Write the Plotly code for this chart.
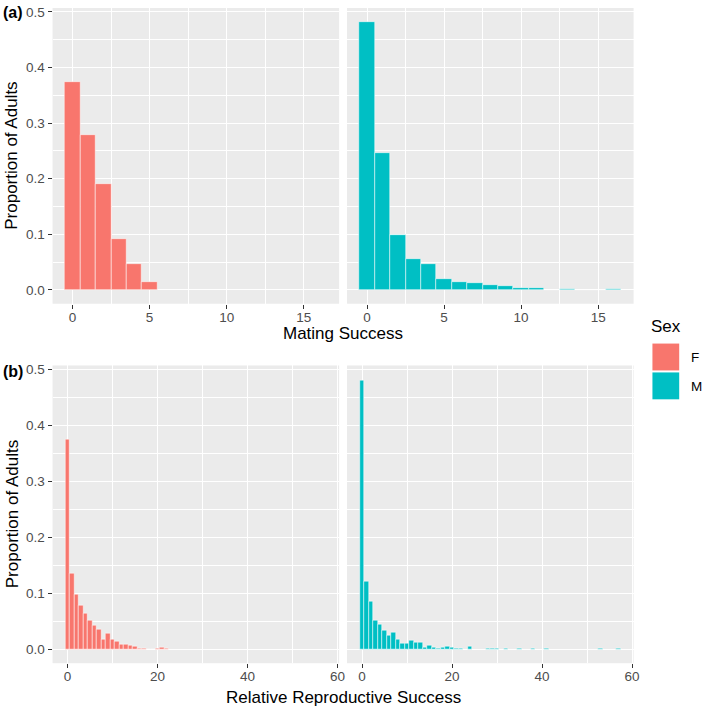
import plotly.graph_objects as go

# ---- data ----
sexes = ["F", "M"]
colors = {"F": "#F8766D", "M": "#00BFC4"}

ms_x_f = [0, 1, 2, 3, 4, 5]
ms_y_f = [0.373, 0.279, 0.191, 0.092, 0.047, 0.014]

ms_x_m = list(range(0, 17))
ms_y_m = [0.481, 0.246, 0.099, 0.056, 0.047, 0.0195, 0.014, 0.012, 0.009,
          0.0065, 0.003, 0.003, 0.0, 0.0015, 0.0, 0.0, 0.0015]

rs_x_f = list(range(0, 23))
rs_y_f = [0.374, 0.1345, 0.098, 0.0786, 0.064, 0.0506, 0.043, 0.0345, 0.0167,
          0.0286, 0.0179, 0.0143, 0.0077, 0.0083, 0.0071, 0.0048, 0.0018,
          0.0012, 0.0, 0.0, 0.0012, 0.003, 0.0018]

rs_x_m = [0, 1, 2, 3, 4, 5, 6, 7, 8, 9, 10, 11, 12, 13, 14, 15, 16, 17, 18,
          19, 20, 21, 22, 24, 28, 29, 30, 32, 35, 38, 41, 53, 57]
rs_y_m = [0.481, 0.121, 0.085, 0.0506, 0.0435, 0.034, 0.0244, 0.030, 0.0179,
          0.0095, 0.0107, 0.0149, 0.0125, 0.0113, 0.0024, 0.006, 0.0036,
          0.0018, 0.0024, 0.0042, 0.0024, 0.0018, 0.0012, 0.0054, 0.0012,
          0.0012, 0.0012, 0.0012, 0.0018, 0.0012, 0.0012, 0.0012, 0.0012]

y_ticks = [0.0, 0.1, 0.2, 0.3, 0.4, 0.5]
y_ticktext = ["0.0", "0.1", "0.2", "0.3", "0.4", "0.5"]
ms_ticks = [0, 5, 10, 15]
rs_ticks = [0, 20, 40, 60]

W, H = 709, 711

def xd(a, b):
    return [a / W, b / W]

def yd(top, bottom):
    return [1 - bottom / H, 1 - top / H]

fig = go.Figure()
bar_line = dict(color="rgba(255,255,255,0.85)", width=0.6)

panels = [
    (ms_x_f, ms_y_f, "F", "x", "y"),
    (ms_x_m, ms_y_m, "M", "x2", "y2"),
    (rs_x_f, rs_y_f, "F", "x3", "y3"),
    (rs_x_m, rs_y_m, "M", "x4", "y4"),
]
for xs, ys, s, xa, ya in panels:
    fig.add_trace(go.Bar(x=xs, y=ys, width=1, marker=dict(color=colors[s], line=bar_line),
                         xaxis=xa, yaxis=ya, showlegend=False, name=s))

font_family = "Liberation Sans, Arial, sans-serif"
tickfont = dict(family=font_family, size=13.5, color="#4D4D4D")

def xaxis(domain, rng, ticks, minor_dtick, anchor):
    return dict(domain=domain, range=rng, tickvals=ticks, ticktext=[str(t) for t in ticks],
                showgrid=True, gridcolor="white", gridwidth=1.1, zeroline=False,
                ticks="outside", ticklen=4, tickcolor="#333333", tickwidth=1,
                ticklabelstandoff=-3,
                tickfont=tickfont, anchor=anchor, showline=False,
                minor=dict(dtick=minor_dtick, tick0=0, showgrid=True, gridcolor="white",
                           gridwidth=0.55, ticks=""))

def yaxis(domain, anchor, labels):
    return dict(domain=domain, range=[-0.025, 0.507], tickvals=y_ticks,
                ticktext=y_ticktext, showticklabels=labels,
                showgrid=True, gridcolor="white", gridwidth=1.1, zeroline=False,
                ticks="outside" if labels else "", ticklen=4, tickcolor="#333333",
                tickwidth=1, tickfont=tickfont, anchor=anchor, showline=False,
                minor=dict(dtick=0.05, tick0=0, showgrid=True, gridcolor="white",
                           gridwidth=0.55, ticks=""))

ms_range = [-1.3, 17.3]
rs_range = [-3.35, 60.35]
top_y = yd(5, 302)
bot_y = yd(364, 663)
left_x = xd(53, 342)
right_x = xd(350, 639)

fig.update_layout(
    width=W, height=H,
    margin=dict(l=0, r=0, t=0, b=0),
    paper_bgcolor="white", plot_bgcolor="#EBEBEB",
    bargap=0,
    font=dict(family=font_family),
    xaxis=xaxis(left_x, ms_range, ms_ticks, 2.5, "y"),
    yaxis=yaxis(top_y, "x", True),
    xaxis2=xaxis(right_x, ms_range, ms_ticks, 2.5, "y2"),
    yaxis2=yaxis(top_y, "x2", False),
    xaxis3=xaxis(left_x, rs_range, rs_ticks, 10, "y3"),
    yaxis3=yaxis(bot_y, "x3", True),
    xaxis4=xaxis(right_x, rs_range, rs_ticks, 10, "y4"),
    yaxis4=yaxis(bot_y, "x4", False),
)

title_font = dict(family=font_family, size=17, color="black")
ann = []
ann.append(dict(text="Mating Success", x=(53 + 639) / 2 / W, y=1 - 332 / H, xref="paper",
                yref="paper", showarrow=False, font=title_font, xanchor="center", yanchor="middle"))
ann.append(dict(text="Relative Reproductive Success", x=(53 + 639) / 2 / W, y=1 - 697 / H,
                xref="paper", yref="paper", showarrow=False, font=title_font,
                xanchor="center", yanchor="middle"))
for yc in [153.5, 513.5]:
    ann.append(dict(text="Proportion of Adults", x=12 / W, y=1 - yc / H, xref="paper",
                    yref="paper", showarrow=False, font=title_font, textangle=-90,
                    xanchor="center", yanchor="middle"))
ann.append(dict(text="<b>(a)</b>", x=1 / W, y=1 - 10 / H, xref="paper", yref="paper",
                showarrow=False, font=dict(family=font_family, size=16, color="black"),
                xanchor="left", yanchor="middle"))
ann.append(dict(text="<b>(b)</b>", x=1 / W, y=1 - 370 / H, xref="paper", yref="paper",
                showarrow=False, font=dict(family=font_family, size=16, color="black"),
                xanchor="left", yanchor="middle"))
# legend
ann.append(dict(text="Sex", x=655 / W, y=1 - 325 / H, xref="paper", yref="paper",
                showarrow=False, font=title_font, xanchor="left", yanchor="middle"))
shapes = []
for i, s in enumerate(sexes):
    top = 342 + i * 29
    shapes.append(dict(type="rect", xref="paper", yref="paper",
                       x0=658 / W, x1=685 / W, y0=1 - (top + 27) / H, y1=1 - top / H,
                       fillcolor=colors[s], line=dict(width=0)))
    ann.append(dict(text=s, x=695 / W, y=1 - (top + 14) / H, xref="paper", yref="paper",
                    showarrow=False, font=dict(family=font_family, size=13.5, color="black"),
                    xanchor="left", yanchor="middle"))
fig.update_layout(annotations=ann, shapes=shapes)

fig.write_html(
    "out.html",
    config={"displayModeBar": False},
    post_script="document.body.style.margin='0';document.body.style.padding='0';"
                "document.body.style.overflow='hidden';"
                "document.documentElement.style.overflow='hidden';",
)
